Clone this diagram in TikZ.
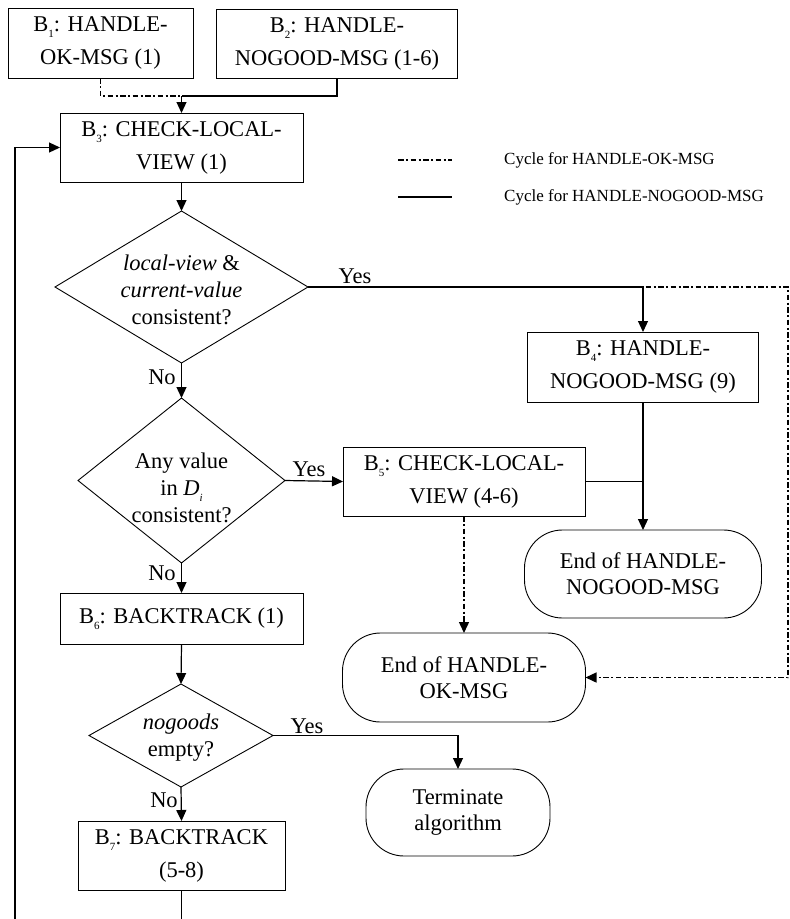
\documentclass[tikz,border=0pt]{standalone}
\usepackage{fontspec}
\setmainfont{Liberation Serif}
\usetikzlibrary{shapes.geometric,arrows.meta}
\newcommand\bsub[1]{\raisebox{-0.6ex}{\fontsize{11}{11}\selectfont #1}}
\begin{document}
\begin{tikzpicture}[x=1pt,y=-1pt,
  box/.style={draw, line width=0.9pt, align=center, inner sep=0pt, outer sep=0pt,
    font=\fontsize{22.5}{33}\selectfont},
  dia/.style={draw, shape=diamond, line width=0.9pt, inner sep=0pt, outer sep=0pt},
  dtext/.style={align=center, inner sep=0pt, font=\fontsize{22.5}{27}\selectfont},
  term/.style={draw, line width=0.9pt, rounded corners=38pt, align=center, inner sep=0pt,
    outer sep=0pt, font=\fontsize{22.5}{26}\selectfont},
  lbl/.style={inner sep=0pt, font=\fontsize{22.5}{27}\selectfont},
  legtext/.style={anchor=west, inner sep=0pt, font=\fontsize{17}{20}\selectfont},
  conn/.style={line width=1.2pt},
  flow/.style={conn, -{Triangle[length=11pt,width=10pt]}},
  dd/.style={line width=1.4pt, dash pattern=on 5.5pt off 2.5pt on 2pt off 2.5pt},
  ddflow/.style={dd, -{Triangle[length=11pt,width=10pt]}}
]
\useasboundingbox (0,0) rectangle (790,919);

% boxes
\node[box, minimum width=185, minimum height=70] (b1) at (100.5,43) {B\bsub{1}: HANDLE-\\OK-MSG (1)};
\node[box, minimum width=241, minimum height=69] (b2) at (337,43.5) {B\bsub{2}: HANDLE-\\NOGOOD-MSG (1-6)};
\node[box, minimum width=243, minimum height=69] (b3) at (181.5,147.5) {B\bsub{3}: CHECK-LOCAL-\\VIEW (1)};
\node[box, minimum width=231, minimum height=70] (b4) at (643,367) {B\bsub{4}: HANDLE-\\NOGOOD-MSG (9)};
\node[box, minimum width=242, minimum height=69] (b5) at (464,481.5) {B\bsub{5}: CHECK-LOCAL-\\VIEW (4-6)};
\node[box, minimum width=243, minimum height=51] (b6) at (181.5,618.5) {B\bsub{6}: BACKTRACK (1)};
\node[box, minimum width=207, minimum height=69] (b7) at (181.5,855.5) {B\bsub{7}: BACKTRACK\\(5-8)};

% decisions
\node[dia, minimum width=253, minimum height=152] (d1) at (181.5,287) {};
\node[dtext] (d1t) at (181.5,290) {\textit{local-view} \&\\\textit{current-value}\\consistent?};
\node[dia, minimum width=207, minimum height=165] (d2) at (181.5,480.5) {};
\node[dtext] (d2t) at (181.5,488) {Any value\\in \textit{D}\bsub{\textit{i}}\\consistent?};
\node[dia, minimum width=184, minimum height=103] (d3) at (181,735.5) {};
\node[dtext] (d3t) at (181,738) {\textit{nogoods}\\empty?};

% terminals
\node[term, minimum width=237, minimum height=88] (e1) at (643,574) {End of HANDLE-\\NOGOOD-MSG};
\node[term, minimum width=243, minimum height=89] (e2) at (464,677.5) {End of HANDLE-\\OK-MSG};
\node[term, minimum width=184, minimum height=87] (t) at (458,812.5) {Terminate\\algorithm};

% legend
\coordinate (l1a) at (398,160); \coordinate (l1b) at (452,160);
\coordinate (l2a) at (398,197); \coordinate (l2b) at (452,197);
\draw[dd] (l1a) -- (l1b);
\draw[line width=1.4pt] (l2a) -- (l2b);
\node[legtext] (lt1) at (504,160) {Cycle for HANDLE-OK-MSG};
\node[legtext] (lt2) at (504,197) {Cycle for HANDLE-NOGOOD-MSG};

% top joins
\coordinate (j) at (181.5,96);
\draw[dd] (b1.south) -- (b1.south |- j) -- (j);
\draw[conn] (b2.south) -- (b2.south |- j) -- (j);
\draw[flow] (j) -- (b3.north);

% loop back
\coordinate (lb) at (15,919);
\coordinate (bb) at (181.5,919);
\draw[flow] (lb) |- (b3.west);
\draw[conn] (b7.south) -- (bb);

% main flow
\draw[flow] (b3.south) -- (d1.north);
\coordinate (r1) at (788,287);
\coordinate (r2) at (788,677.5);
\draw[ddflow] (d1.east) -- (r1) -- (r2) -- (e2.east);
\draw[flow] (d1.east) -| (b4.north);
\node[lbl] (y1) at (355,276) {Yes};

\draw[flow] (d1.south) -- (d2.north);
\node[lbl] (n1) at (162,377) {No};

\draw[flow] (d2.east) -- (b5.west);
\node[lbl] (y2) at (309,469) {Yes};

\draw[conn] (b5.east) -- (b5.east -| b4.south);
\draw[flow] (b4.south) -- (e1.north);
\draw[ddflow] (b5.south) -- (e2.north);

\draw[flow] (d2.south) -- (b6.north);
\node[lbl] (n2) at (162,573) {No};

\draw[flow] (b6.south) -- (d3.north);
\draw[flow] (d3.east) -| (t.north);
\node[lbl] (y3) at (307,726) {Yes};

\draw[flow] (d3.south) -- (b7.north);
\node[lbl] (n3) at (164,800) {No};
\end{tikzpicture}
\end{document}
